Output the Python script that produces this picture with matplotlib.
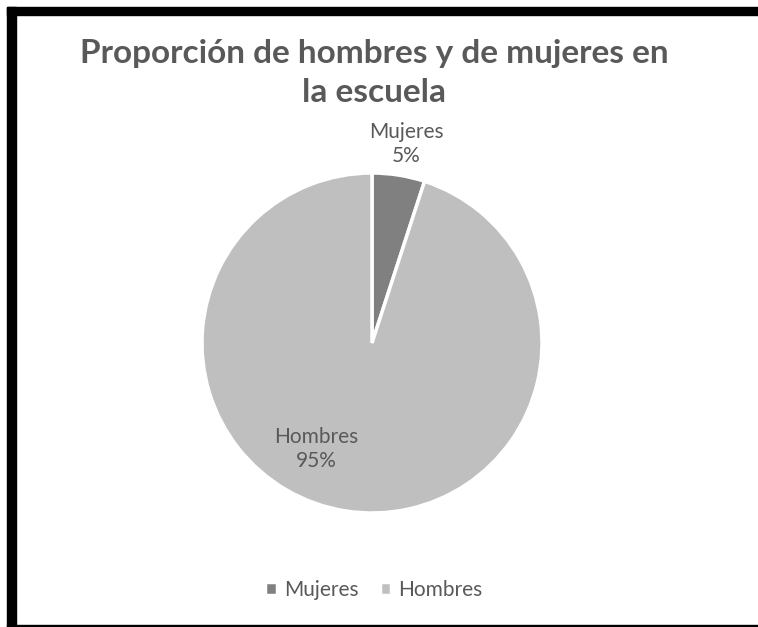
import matplotlib.pyplot as plt
from matplotlib.patches import Rectangle

labels = ['Mujeres', 'Hombres']
values = [5, 95]
colors = ['#808080', '#bfbfbf']

fig = plt.figure(figsize=(7.58, 6.27), dpi=100)
W, H = 758, 627

# black frame (left, top, bottom; open on the right)
fig.patches.append(Rectangle((7 / W, 0), 9 / W, 1 - 7 / H, transform=fig.transFigure, color='black'))
fig.patches.append(Rectangle((7 / W, 1 - 15 / H), 1 - 7 / W, 8 / H, transform=fig.transFigure, color='black'))
fig.patches.append(Rectangle((7 / W, 0), 1 - 7 / W, 2.5 / H, transform=fig.transFigure, color='black'))

# pie: centre (372, 343) px, radius 170 px
r = 170
ax = fig.add_axes([(372 - r) / W, 1 - (343 + r) / H, 2 * r / W, 2 * r / H])
wedges, _ = ax.pie(values, colors=colors, startangle=90, counterclock=False,
                   radius=1, wedgeprops=dict(edgecolor='white', linewidth=2.5))
ax.set_xlim(-1, 1)
ax.set_ylim(-1, 1)
ax.set_aspect('equal')

lab_font = dict(family='Lato', fontsize=15, color='#595959', ha='center', va='center',
                linespacing=1.3)
ax.text((406 - 372) / r, (343 - 144) / r, f'{labels[0]}\n{values[0]}%', **lab_font)
ax.text((316 - 372) / r, (343 - 449) / r, f'{labels[1]}\n{values[1]}%', **lab_font)

fig.text(374 / W, 1 - 73 / H, 'Proporción de hombres y de mujeres en\nla escuela',
         family='Lato', fontweight='bold', fontsize=24, color='#595959',
         ha='center', va='center', linespacing=1.42)

fig.legend(wedges, labels, loc='center', bbox_to_anchor=(374 / W, 1 - 590 / H),
           ncol=2, frameon=False, handlelength=0.55, handleheight=0.55,
           handletextpad=0.35, columnspacing=1.0,
           prop=dict(family='Lato', size=15), labelcolor='#595959')

fig.savefig('out.png', dpi=100)
